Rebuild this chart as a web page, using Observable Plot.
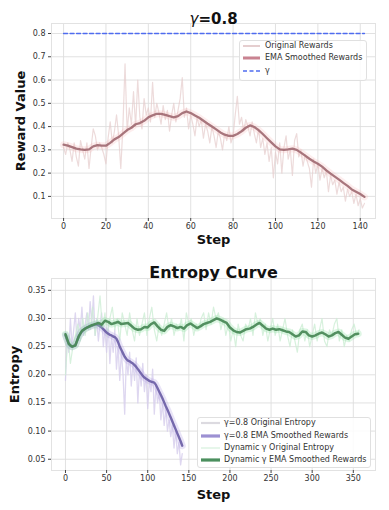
<!DOCTYPE html>
<html><head><meta charset="utf-8">
<script src="https://cdn.jsdelivr.net/npm/d3@7"></script>
<script src="https://cdn.jsdelivr.net/npm/@observablehq/plot@0.6"></script>
<style>
body{margin:0;background:#fff;font-family:"DejaVu Sans",sans-serif;}
#wrap{position:relative;width:389px;height:510px;overflow:hidden;background:#fff;}
#wrap svg{display:block;}
.legend{position:absolute;background:rgba(255,255,255,0.85);border:1px solid #e0e0e0;border-radius:3px;box-sizing:border-box;}
.lrow{position:absolute;font-size:8px;color:#333;white-space:nowrap;line-height:10px;height:10px;}
</style></head><body><div id="wrap"></div>
<script>
// ---------- Top chart data (γ=0.8 rewards) ----------
const rewardRaw = [
0.31,0.28,0.33,0.30,0.25,0.33,0.27,0.23,0.34,0.30,
0.26,0.33,0.22,0.31,0.39,0.36,0.30,0.33,0.31,0.28,
0.24,0.35,0.42,0.33,0.38,0.45,0.36,0.22,0.40,0.67,
0.38,0.48,0.41,0.55,0.40,0.60,0.44,0.39,0.52,0.45,
0.48,0.42,0.59,0.44,0.50,0.46,0.41,0.49,0.43,0.47,
0.38,0.45,0.50,0.42,0.47,0.52,0.61,0.44,0.48,0.39,
0.45,0.41,0.36,0.44,0.40,0.43,0.35,0.41,0.38,0.33,
0.40,0.36,0.31,0.38,0.35,0.30,0.37,0.34,0.40,0.33,
0.36,0.45,0.53,0.41,0.44,0.38,0.43,0.40,0.36,0.42,
0.37,0.33,0.39,0.31,0.35,0.28,0.33,0.25,0.31,0.18,
0.29,0.24,0.33,0.20,0.31,0.36,0.26,0.30,0.19,0.34,
0.37,0.27,0.30,0.23,0.28,0.25,0.22,0.14,0.26,0.20,
0.24,0.17,0.22,0.18,0.21,0.12,0.19,0.15,0.17,0.11,
0.16,0.12,0.14,0.08,0.13,0.10,0.12,0.07,0.11,0.06,
0.09,0.05,0.07];
const rewardEmaStride = 2;
const rewardEma = [
0.322,0.318,0.312,0.305,0.302,0.300,0.302,0.315,0.320,0.318,
0.318,0.330,0.345,0.355,0.370,0.385,0.395,0.410,0.415,0.425,
0.440,0.448,0.455,0.455,0.450,0.445,0.440,0.445,0.458,0.465,
0.458,0.448,0.438,0.425,0.412,0.400,0.388,0.375,0.365,0.360,
0.360,0.368,0.380,0.395,0.405,0.398,0.385,0.368,0.350,0.332,
0.315,0.302,0.300,0.302,0.305,0.300,0.288,0.275,0.262,0.250,
0.240,0.228,0.212,0.198,0.185,0.172,0.158,0.145,0.130,0.120,
0.110,0.098];
const gammaValue = 0.8;
const gammaSteps = [0, 142];
const rewardXTicks = [0,20,40,60,80,100,120,140];
const rewardYTicks = [0.1,0.2,0.3,0.4,0.5,0.6,0.7,0.8];
const rewardLegend = ["Original Rewards","EMA Smoothed Rewards","γ"];

// ---------- Bottom chart data (entropy) ----------
const fixedRawStride = 2;
const fixedRaw = [
0.19,0.27,0.24,0.30,0.25,0.28,0.31,0.26,0.30,0.28,
0.32,0.27,0.29,0.31,0.28,0.33,0.29,0.34,0.27,0.30,
0.26,0.29,0.31,0.25,0.28,0.24,0.29,0.22,0.27,0.24,
0.28,0.21,0.25,0.19,0.24,0.20,0.13,0.23,0.20,0.24,
0.18,0.22,0.19,0.23,0.15,0.21,0.18,0.22,0.17,0.20,
0.14,0.19,0.17,0.21,0.13,0.18,0.15,0.17,0.12,0.15,
0.11,0.14,0.10,0.12,0.09,0.11,0.07,0.10,0.06,0.08,
0.04,0.06];
const fixedEmaStride = 2;
const fixedEma = [
0.270,0.262,0.255,0.251,0.250,0.251,0.253,0.260,0.267,0.273,
0.277,0.280,0.282,0.284,0.285,0.286,0.287,0.288,0.289,0.289,
0.288,0.286,0.284,0.281,0.278,0.275,0.273,0.271,0.270,0.268,
0.267,0.264,0.258,0.250,0.244,0.238,0.232,0.228,0.225,0.224,
0.222,0.220,0.217,0.214,0.210,0.206,0.202,0.198,0.195,0.193,
0.191,0.189,0.188,0.187,0.186,0.182,0.176,0.170,0.164,0.158,
0.151,0.144,0.138,0.131,0.124,0.117,0.110,0.103,0.096,0.089,
0.082,0.074];
const dynRawStride = 3;
const dynRaw = [
0.20,0.27,0.22,0.25,0.27,0.29,0.26,0.30,0.27,0.31,
0.28,0.32,0.27,0.30,0.34,0.28,0.31,0.27,0.30,0.32,
0.28,0.30,0.26,0.31,0.29,0.27,0.31,0.28,0.26,0.30,
0.27,0.29,0.31,0.27,0.30,0.32,0.28,0.26,0.29,0.27,
0.29,0.31,0.28,0.30,0.27,0.29,0.28,0.30,0.26,0.31,
0.29,0.30,0.27,0.29,0.28,0.30,0.31,0.28,0.31,0.29,
0.32,0.30,0.31,0.28,0.30,0.27,0.29,0.26,0.28,0.25,
0.29,0.27,0.26,0.29,0.28,0.30,0.27,0.31,0.29,0.30,
0.27,0.29,0.26,0.28,0.30,0.27,0.29,0.26,0.28,0.30,
0.27,0.25,0.28,0.26,0.24,0.28,0.29,0.26,0.28,0.25,
0.27,0.29,0.26,0.28,0.30,0.26,0.25,0.28,0.27,0.29,
0.30,0.26,0.28,0.25,0.27,0.26,0.28,0.29,0.27,0.28];
const dynEmaStride = 4;
const dynEma = [
0.272,0.255,0.250,0.252,0.268,0.278,0.282,0.285,0.288,0.290,
0.292,0.289,0.296,0.294,0.290,0.292,0.294,0.290,0.291,0.292,
0.287,0.282,0.280,0.281,0.285,0.284,0.290,0.293,0.286,0.280,
0.278,0.285,0.288,0.286,0.283,0.285,0.282,0.288,0.291,0.287,
0.283,0.286,0.290,0.292,0.294,0.297,0.300,0.298,0.295,0.292,
0.284,0.279,0.276,0.275,0.278,0.281,0.282,0.285,0.289,0.292,
0.287,0.282,0.280,0.282,0.280,0.281,0.279,0.277,0.276,0.272,
0.268,0.270,0.277,0.276,0.270,0.268,0.270,0.273,0.275,0.272,
0.268,0.270,0.274,0.276,0.271,0.266,0.264,0.268,0.272,0.273];
const entXTicks = [0,50,100,150,200,250,300,350];
const entYTicks = [0.05,0.10,0.15,0.20,0.25,0.30,0.35];
const entLegend = ["γ=0.8 Original Entropy","γ=0.8 EMA Smoothed Rewards","Dynamic γ Original Entropy","Dynamic γ EMA Smoothed Rewards"];

// ---------- helpers ----------
const rows = (arr, stride) => arr.map((v, i) => ({step: i * stride, v}));
const font = {fontFamily: "DejaVu Sans", background: "white", color: "#333", overflow: "visible"};
const gridStyle = {stroke: "#dedede", strokeOpacity: 1, strokeWidth: 0.9};

const wrap = document.getElementById("wrap");

const topChart = Plot.plot({
  width: 389, height: 255,
  marginLeft: 51, marginRight: 14, marginTop: 23, marginBottom: 37,
  style: font,
  x: {domain: [-5.7, 147.2]},
  y: {domain: [0.005, 0.843]},
  marks: [
    Plot.gridX(rewardXTicks, gridStyle),
    Plot.gridY(rewardYTicks, gridStyle),
    Plot.frame({stroke: "#e2e2e2"}),
    Plot.lineY(rows(rewardRaw, 1), {x: "step", y: "v", stroke: "#e6cccc", strokeWidth: 1.2, strokeOpacity: 0.7}),
    Plot.lineY(rows(rewardEma, rewardEmaStride), {x: "step", y: "v", stroke: "#f6b0b0", strokeWidth: 7, strokeOpacity: 0.22}),
    Plot.lineY(rows(rewardEma, rewardEmaStride), {x: "step", y: "v", stroke: "#9f6870", strokeWidth: 2.3, strokeOpacity: 0.9}),
    Plot.lineY(gammaSteps.map(s => ({step: s, v: gammaValue})), {x: "step", y: "v", stroke: "#4f6cf0", strokeWidth: 1.3, strokeDasharray: "4,2.5"}),
    Plot.axisX(rewardXTicks, {tickSize: 3, tickPadding: 2, fontSize: 8, label: null, stroke: "#444"}),
    Plot.axisY(rewardYTicks, {tickSize: 3, tickPadding: 3, fontSize: 8, label: null, tickFormat: ".1f", stroke: "#444"}),
    Plot.text(["Reward Value"], {frameAnchor: "left", dx: -31, rotate: -90, textAnchor: "middle", fontSize: 13, fontWeight: "bold", fill: "#111"}),
    Plot.text(["Step"], {frameAnchor: "bottom", dy: 25, fontSize: 13, fontWeight: "bold", fill: "#111"}),
    Plot.text(["γ"], {frameAnchor: "top", dy: -10, dx: -15, textAnchor: "end", fontSize: 15, fontStyle: "italic", fill: "#111"}),
    Plot.text(["=0.8"], {frameAnchor: "top", dy: -10, dx: -15, textAnchor: "start", fontSize: 15, fontWeight: "bold", fill: "#111"})
  ]
});
wrap.appendChild(topChart);

const botChart = Plot.plot({
  width: 389, height: 255,
  marginLeft: 51, marginRight: 14, marginTop: 23, marginBottom: 40,
  style: font,
  x: {domain: [-17, 377]},
  y: {domain: [0.030, 0.371]},
  marks: [
    Plot.gridX(entXTicks, gridStyle),
    Plot.gridY(entYTicks, gridStyle),
    Plot.frame({stroke: "#e2e2e2"}),
    Plot.lineY(rows(fixedRaw, fixedRawStride), {x: "step", y: "v", stroke: "#d6cdec", strokeWidth: 1.3, strokeOpacity: 0.8}),
    Plot.lineY(rows(dynRaw, dynRawStride), {x: "step", y: "v", stroke: "#cdeed5", strokeWidth: 1.2, strokeOpacity: 0.8}),
    Plot.lineY(rows(fixedEma, fixedEmaStride), {x: "step", y: "v", stroke: "#b6a6e6", strokeWidth: 7, strokeOpacity: 0.3}),
    Plot.lineY(rows(fixedEma, fixedEmaStride), {x: "step", y: "v", stroke: "#6f62a8", strokeWidth: 2.4, strokeOpacity: 0.95}),
    Plot.lineY(rows(dynEma, dynEmaStride), {x: "step", y: "v", stroke: "#92e2a4", strokeWidth: 7, strokeOpacity: 0.3}),
    Plot.lineY(rows(dynEma, dynEmaStride), {x: "step", y: "v", stroke: "#4b8a59", strokeWidth: 2.5, strokeOpacity: 0.95}),
    Plot.axisX(entXTicks, {tickSize: 3, tickPadding: 2, fontSize: 8, label: null, stroke: "#444"}),
    Plot.axisY(entYTicks, {tickSize: 3, tickPadding: 3, fontSize: 8, label: null, tickFormat: ".2f", stroke: "#444"}),
    Plot.text(["Entropy"], {frameAnchor: "left", dx: -37, rotate: -90, textAnchor: "middle", fontSize: 13, fontWeight: "bold", fill: "#111"}),
    Plot.text(["Step"], {frameAnchor: "bottom", dy: 28, fontSize: 13, fontWeight: "bold", fill: "#111"}),
    Plot.text(["Entropy Curve"], {frameAnchor: "top", dy: -12, fontSize: 16, fontWeight: "bold", fill: "#111"})
  ]
});
wrap.appendChild(botChart);

// ---------- legends ----------
function legend(box, labels, styles, rowYs, sampleW, textX) {
  const div = document.createElement("div");
  div.className = "legend";
  Object.assign(div.style, {left: box[0] + "px", top: box[1] + "px", width: box[2] + "px", height: box[3] + "px"});
  wrap.appendChild(div);
  labels.forEach((lab, i) => {
    const y = rowYs[i];
    const svg = d3.create("svg").attr("width", sampleW + 4).attr("height", 10)
      .style("position", "absolute").style("left", (box[0] + 2) + "px").style("top", (y - 5) + "px");
    const s = styles[i];
    svg.append("line").attr("x1", 2).attr("x2", sampleW + 2).attr("y1", 5).attr("y2", 5)
      .attr("stroke", s.c).attr("stroke-width", s.w).attr("stroke-opacity", s.o ?? 1)
      .attr("stroke-dasharray", s.d || null);
    wrap.appendChild(svg.node());
    const t = document.createElement("div");
    t.className = "lrow";
    t.textContent = lab;
    Object.assign(t.style, {left: textX + "px", top: (y - 5) + "px"});
    wrap.appendChild(t);
  });
}
legend([239, 40, 128, 41], rewardLegend,
  [{c: "#e3c9ca", w: 1.8}, {c: "#c98391", w: 3}, {c: "#4f6cf0", w: 1.3, d: "4,2.5"}],
  [46, 58, 71], 17, 265);
legend([197, 417, 174, 51], entLegend,
  [{c: "#dcdae0", w: 2.2}, {c: "#9c90d2", w: 3.2}, {c: "#e6f6ea", w: 2}, {c: "#4b8f5e", w: 3.2}],
  [423, 435.5, 448, 460], 19, 224);
</script></body></html>
